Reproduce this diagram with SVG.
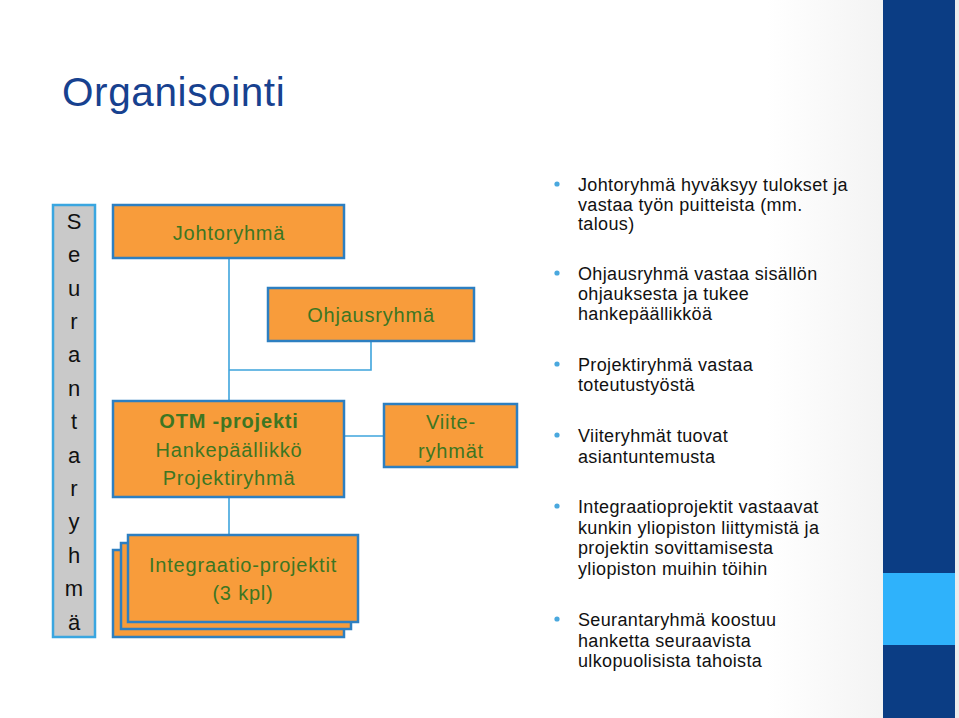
<svg xmlns="http://www.w3.org/2000/svg" width="959" height="718" viewBox="0 0 959 718">
<defs>
<linearGradient id="bg" x1="0" y1="0" x2="1" y2="0">
<stop offset="0" stop-color="#ffffff"/>
<stop offset="0.8" stop-color="#ffffff"/>
<stop offset="1" stop-color="#ececec"/>
</linearGradient>
<style>
.box{fill:#f89c3b;stroke:#2d7fc1;stroke-width:2.5}
.bt{font-family:"Liberation Sans",Arial,sans-serif;font-size:20px;fill:#3d7622;text-anchor:middle;letter-spacing:0.8px}
.conn{stroke:#3ea4dc;stroke-width:1.6;fill:none}
.txt{font-family:"Liberation Sans",Arial,sans-serif;font-size:18px;fill:#111;letter-spacing:0.35px}
.dot{fill:#4aa8de}
.vl{font-family:"Liberation Sans",Arial,sans-serif;font-size:22px;fill:#111;text-anchor:middle}
</style>
</defs>
<rect x="0" y="0" width="959" height="718" fill="url(#bg)"/>
<g id="sidebar">
<rect x="883" y="0" width="72" height="718" fill="#0b3d84"/>
<rect x="883" y="573" width="72" height="72" fill="#2fb2fb"/>
</g>
<text x="62" y="106" font-family="Liberation Sans,Arial,sans-serif" font-size="40.5" fill="#17418f" letter-spacing="0.6">Organisointi</text>
<g id="connectors">
<line class="conn" x1="229" y1="258" x2="229" y2="401"/>
<polyline class="conn" points="371,341 371,370 229,370"/>
<line class="conn" x1="344" y1="436" x2="384" y2="436"/>
<line class="conn" x1="229" y1="497" x2="229" y2="535"/>
</g>
<g id="seurantaryhma">
<rect x="53" y="205" width="42" height="432" fill="#c9c9c9" stroke="#3aa6e0" stroke-width="2.5"/>
<text class="vl" x="74" y="229">S</text>
<text class="vl" x="74" y="262">e</text>
<text class="vl" x="74" y="296">u</text>
<text class="vl" x="74" y="329">r</text>
<text class="vl" x="74" y="362">a</text>
<text class="vl" x="74" y="396">n</text>
<text class="vl" x="74" y="429">t</text>
<text class="vl" x="74" y="463">a</text>
<text class="vl" x="74" y="496">r</text>
<text class="vl" x="74" y="529">y</text>
<text class="vl" x="74" y="563">h</text>
<text class="vl" x="74" y="596">m</text>
<text class="vl" x="74" y="630">ä</text>
</g>
<g id="johtoryhma">
<rect class="box" x="113" y="205" width="231" height="53"/>
<text class="bt" x="229" y="240">Johtoryhmä</text>
</g>
<g id="ohjausryhma">
<rect class="box" x="268" y="288" width="206" height="53"/>
<text class="bt" x="371" y="322">Ohjausryhmä</text>
</g>
<g id="otm">
<rect class="box" x="113" y="401" width="231" height="96"/>
<text class="bt" x="229" y="428" font-weight="bold" letter-spacing="0.3">OTM -projekti</text>
<text class="bt" x="229" y="457">Hankepäällikkö</text>
<text class="bt" x="229" y="485">Projektiryhmä</text>
</g>
<g id="viiteryhmat">
<rect class="box" x="384" y="404" width="133" height="63"/>
<text class="bt" x="451" y="429">Viite-</text>
<text class="bt" x="451" y="458">ryhmät</text>
</g>
<g id="integraatio">
<rect class="box" x="113" y="550" width="231" height="87"/>
<rect class="box" x="121" y="543" width="230" height="86"/>
<rect class="box" x="128" y="535" width="230" height="87"/>
<text class="bt" x="243" y="572">Integraatio-projektit</text>
<text class="bt" x="243" y="600">(3 kpl)</text>
</g>
<g id="bullets">
<circle class="dot" cx="557" cy="184" r="2.6"/>
<text class="txt" x="578" y="191">Johtoryhmä hyväksyy tulokset ja</text>
<text class="txt" x="578" y="211">vastaa työn puitteista (mm.</text>
<text class="txt" x="578" y="230">talous)</text>
<circle class="dot" cx="557" cy="273" r="2.6"/>
<text class="txt" x="578" y="280">Ohjausryhmä vastaa sisällön</text>
<text class="txt" x="578" y="300">ohjauksesta ja tukee</text>
<text class="txt" x="578" y="320">hankepäällikköä</text>
<circle class="dot" cx="557" cy="364" r="2.6"/>
<text class="txt" x="578" y="371">Projektiryhmä vastaa</text>
<text class="txt" x="578" y="391">toteutustyöstä</text>
<circle class="dot" cx="557" cy="435" r="2.6"/>
<text class="txt" x="578" y="442">Viiteryhmät tuovat</text>
<text class="txt" x="578" y="463">asiantuntemusta</text>
<circle class="dot" cx="557" cy="506" r="2.6"/>
<text class="txt" x="578" y="513">Integraatioprojektit vastaavat</text>
<text class="txt" x="578" y="534">kunkin yliopiston liittymistä ja</text>
<text class="txt" x="578" y="554">projektin sovittamisesta</text>
<text class="txt" x="578" y="575">yliopiston muihin töihin</text>
<circle class="dot" cx="557" cy="619" r="2.6"/>
<text class="txt" x="578" y="626">Seurantaryhmä koostuu</text>
<text class="txt" x="578" y="647">hanketta seuraavista</text>
<text class="txt" x="578" y="667">ulkopuolisista tahoista</text>
</g>
</svg>
